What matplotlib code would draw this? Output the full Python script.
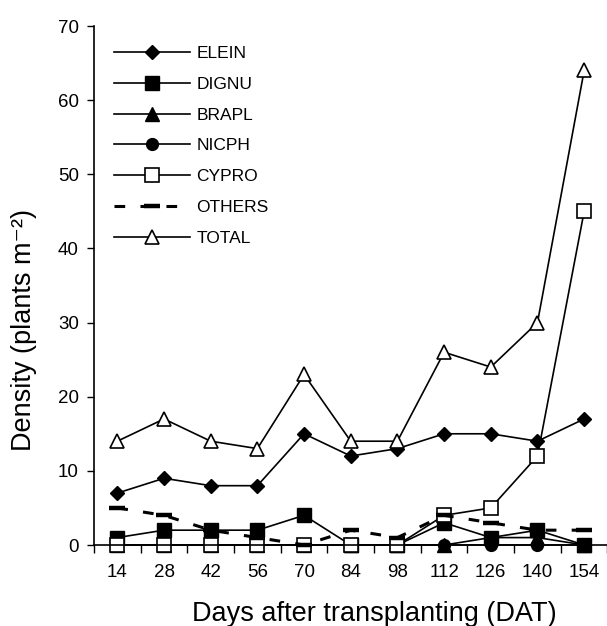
import numpy as np
import matplotlib
matplotlib.use("Agg")
import matplotlib.pyplot as plt

plt.rcParams["font.family"] = ["Liberation Sans", "DejaVu Sans"]

days = [14, 28, 42, 56, 70, 84, 98, 112, 126, 140, 154]

elein = [7, 9, 8, 8, 15, 12, 13, 15, 15, 14, 17]
dignu = [1, 2, 2, 2, 4, 0, 0, 3, 1, 2, 0]
brapl = [0, 0, 0, 0, 0, 0, 0, 0, 1, 1, 0]
nicph = [0, 0, 0, 0, 0, 0, 0, 0, 0, 0, 0]
cypro = [0, 0, 0, 0, 0, 0, 0, 4, 5, 12, 45]
others = [5, 4, 2, 1, 0, 2, 1, 4, 3, 2, 2]
total = [14, 17, 14, 13, 23, 14, 14, 26, 24, 30, 64]

series_names = ["ELEIN", "DIGNU", "BRAPL", "NICPH", "CYPRO", "OTHERS", "TOTAL"]


def main():
    fig = plt.figure(figsize=(6.07, 6.26), dpi=100)
    W, H = 607, 626
    ax = fig.add_axes([94 / W, 81 / H, 513.5 / W, 519 / H])

    x = np.arange(len(days))
    lw = 1.2
    common = dict(color="black", lw=lw, clip_on=False)

    ax.plot(x, elein, marker="D", ms=7.5, mfc="black", mec="black", label=series_names[0], **common)
    ax.plot(x, dignu, marker="s", ms=9.5, mfc="black", mec="black", label=series_names[1], **common)
    ax.plot(x, brapl, marker="^", ms=10, mfc="black", mec="black", label=series_names[2], **common)
    ax.plot(x, nicph, marker="o", ms=8.5, mfc="black", mec="black", label=series_names[3], **common)
    ax.plot(x, cypro, marker="s", ms=9.5, mfc="white", mec="black", mew=1.2, label=series_names[4], **common)
    ax.plot(x, others, color="black", lw=2.2, dashes=(3.5, 5), marker="_", ms=11, mew=3.2,
            label=series_names[5], clip_on=False)
    ax.plot(x, total, marker="^", ms=10, mfc="white", mec="black", mew=1.2, label=series_names[6], **common)

    ax.set_xlim(-0.5, 10.5)
    ax.set_ylim(0, 70)
    ax.set_yticks(range(0, 71, 10))
    ax.set_xticks(x)
    ax.set_xticklabels([str(d) for d in days])
    ax.set_xticks(np.arange(-0.5, 10.6, 1), minor=True)
    ax.tick_params(axis="x", which="major", length=0, pad=14, labelsize=13.5)
    ax.tick_params(axis="x", which="minor", length=6, width=1, direction="out")
    ax.tick_params(axis="y", length=5, width=1, direction="out", pad=6, labelsize=13.5)

    for side in ["top", "right"]:
        ax.spines[side].set_visible(False)
    for side in ["left", "bottom"]:
        ax.spines[side].set_linewidth(1.2)

    fig.text(374 / W, 1 - 614 / H, "Days after transplanting (DAT)", fontsize=19.5,
             ha="center", va="center")
    fig.text(24 / W, 1 - 330 / H, "Density (plants m\u207b\u00b2)", fontsize=19.5,
             rotation=90, ha="center", va="center")

    ax.legend(loc="upper left", bbox_to_anchor=((114 - 94) / 513.5, (545 - 46) / 519),
              frameon=False, fontsize=12.5, handlelength=4.4, handletextpad=0.35,
              labelspacing=0.9, borderpad=0, borderaxespad=0)

    plt.savefig("out.png", dpi=100)
    plt.close()


if __name__ == "__main__":
    main()
